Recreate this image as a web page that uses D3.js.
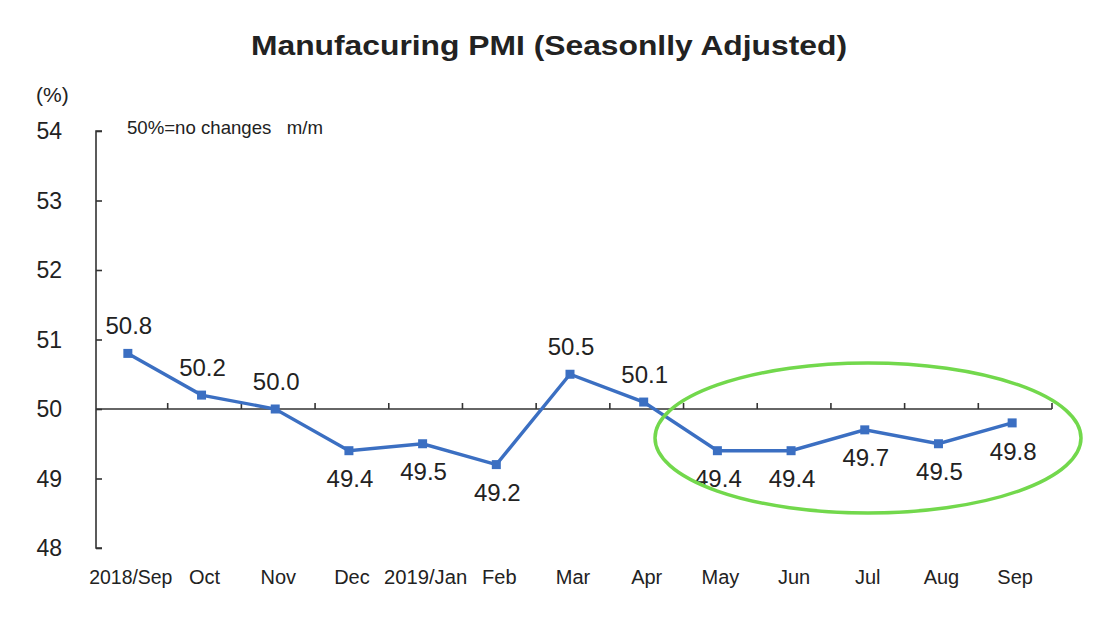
<!DOCTYPE html>
<html>
<head>
<meta charset="utf-8">
<script src="https://cdn.jsdelivr.net/npm/d3@7"></script>
<style>
  body { margin: 0; background: #fff; }
  svg text { font-family: "Liberation Sans", Arial, sans-serif; fill: #222; }
</style>
</head>
<body>
<svg id="chart" width="1100" height="638"></svg>
<script>
// Chart data
const months = ["2018/Sep", "Oct", "Nov", "Dec", "2019/Jan", "Feb", "Mar", "Apr", "May", "Jun", "Jul", "Aug", "Sep"];
const pmi = [50.8, 50.2, 50.0, 49.4, 49.5, 49.2, 50.5, 50.1, 49.4, 49.4, 49.7, 49.5, 49.8];
const yTicks = [48, 49, 50, 51, 52, 53, 54];

const svg = d3.select('#chart');

const x = d3.scaleBand()
    .domain(months)
    .range([94, 1052]);

const y = d3.scaleLinear()
    .domain([48, 54])
    .range([548, 131]);

// Title
svg.append('text')
    .attr('x', 549)
    .attr('y', 55)
    .attr('text-anchor', 'middle')
    .attr('font-size', '28px')
    .attr('font-weight', 'bold')
    .attr('textLength', 596)
    .attr('lengthAdjust', 'spacingAndGlyphs')
    .text('Manufacuring PMI (Seasonlly Adjusted)');

// Unit label and note
svg.append('text')
    .attr('x', 36)
    .attr('y', 102)
    .attr('font-size', '21px')
    .text('(%)');

svg.append('text')
    .attr('x', 127)
    .attr('y', 134)
    .attr('font-size', '19px')
    .style('white-space', 'pre')
    .attr('textLength', 196)
    .attr('lengthAdjust', 'spacingAndGlyphs')
    .text('50%=no changes   m/m');

// Y axis
const yAxis = svg.append('g')
    .attr('transform', 'translate(96,0)')
    .call(d3.axisRight(y).tickValues(yTicks).tickSize(6).tickFormat(''));
yAxis.select('.domain').attr('d', `M6,${y(54)}H0V${y(48)}H6`).attr('stroke', '#333').attr('stroke-width', 1.6);
yAxis.selectAll('.tick line').attr('stroke', '#333').attr('stroke-width', 1.6);

svg.append('g')
    .selectAll('text')
    .data(yTicks)
    .join('text')
    .attr('x', 62)
    .attr('y', d => y(d))
    .attr('dy', '0.36em')
    .attr('text-anchor', 'end')
    .attr('font-size', '23px')
    .text(d => d);

// X axis crossing at 50, ticks on band boundaries
const boundaries = months.map(m => x(m)).slice(1).concat([x.range()[1]]);
const xAxis = svg.append('g');
xAxis.append('line')
    .attr('x1', 96)
    .attr('x2', x.range()[1])
    .attr('y1', y(50))
    .attr('y2', y(50))
    .attr('stroke', '#333')
    .attr('stroke-width', 1.6);
xAxis.selectAll('.xtick')
    .data(boundaries)
    .join('line')
    .attr('class', 'xtick')
    .attr('x1', d => d)
    .attr('x2', d => d)
    .attr('y1', y(50))
    .attr('y2', y(50) - 6)
    .attr('stroke', '#333')
    .attr('stroke-width', 1.6);

svg.append('g')
    .selectAll('text')
    .data(months)
    .join('text')
    .attr('x', d => x(d) + x.bandwidth() / 2)
    .attr('y', 584)
    .attr('text-anchor', 'middle')
    .attr('font-size', '20px')
    .attr('textLength', d => d.length > 4 ? d.length * 10.4 : null)
    .attr('lengthAdjust', 'spacingAndGlyphs')
    .text(d => d);

// Line
const cx = (d, i) => x(months[i]) + x.bandwidth() / 2 - 3;
const line = d3.line()
    .x((d, i) => cx(d, i))
    .y(d => y(d));

svg.append('path')
    .datum(pmi)
    .attr('d', line)
    .attr('fill', 'none')
    .attr('stroke', '#3b6fc2')
    .attr('stroke-width', 3.4);

svg.append('g')
    .selectAll('rect')
    .data(pmi)
    .join('rect')
    .attr('x', (d, i) => cx(d, i) - 4.5)
    .attr('y', d => y(d) - 4.5)
    .attr('width', 9)
    .attr('height', 9)
    .attr('fill', '#3b6fc2');

// Data labels: above when at or over 50, below otherwise
svg.append('g')
    .selectAll('text')
    .data(pmi)
    .join('text')
    .attr('x', (d, i) => cx(d, i) + 1)
    .attr('y', d => d >= 50 ? y(d) - 28 : y(d) + 28)
    .attr('dy', '0.36em')
    .attr('text-anchor', 'middle')
    .attr('font-size', '24px')
    .text(d => d.toFixed(1));

// Highlight ellipse
svg.append('ellipse')
    .attr('cx', 868)
    .attr('cy', 438)
    .attr('rx', 213)
    .attr('ry', 75)
    .attr('fill', 'none')
    .attr('stroke', '#72d84c')
    .attr('stroke-width', 3.5);
</script>
</body>
</html>
